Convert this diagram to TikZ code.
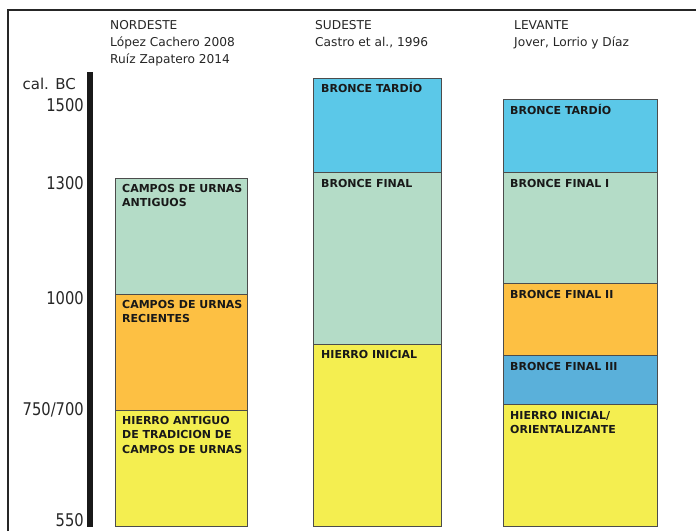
\documentclass[tikz,border=0pt]{standalone}
\usepackage{fontspec}
\setmainfont{DejaVu Sans}
\newfontfamily\digitfont[FakeStretch=0.84]{DejaVu Sans}
\begin{document}
\begin{tikzpicture}[x=1pt,y=-1pt,
  frame/.style={draw=black!85, line width=1.5pt},
  period/.style={draw=black!70, line width=0.9pt},
  lbl/.style={anchor=base west, inner sep=0pt, align=left, font=\fontsize{11}{14.3}\selectfont\bfseries, text=black!90},
  head/.style={anchor=base west, inner sep=0pt, align=left, font=\fontsize{12.2}{16.6}\selectfont, text=black!85},
  axlbl/.style={anchor=base east, inner sep=0pt, font=\fontsize{17.5}{19}\digitfont, text=black!85}]
\definecolor{cgreen}{HTML}{B4DCC7}
\definecolor{corange}{HTML}{FDC043}
\definecolor{cyellow}{HTML}{F4EE50}
\definecolor{cblue}{HTML}{5BC8E8}
\definecolor{cmblue}{HTML}{5AB0DA}
\useasboundingbox (0,0) rectangle (696,531);
% frame
\draw[frame] (8,531) -- (8,10) -- (696,10);
% axis
\fill[black!90] (87,72) rectangle (93,527);
\node[anchor=base east, inner sep=0pt, font=\fontsize{15}{17}\selectfont, text=black!85] (ax0) at (76,89.3) {cal. BC};
\node[axlbl] (ax1) at (84,111.7) {1500};
\node[axlbl] (ax2) at (84,189) {1300};
\node[axlbl] (ax3) at (84,304.3) {1000};
\node[axlbl] (ax4) at (84,415.7) {750/700};
\node[axlbl] (ax5) at (84,526) {550};
% headers
\node[head] (h1) at (110,63) {NORDESTE\\López Cachero 2008\\Ruíz Zapatero 2014};
\node[head] (h2) at (315,46.5) {SUDESTE\\Castro et al., 1996};
\node[head] (h3) at (514,46.5) {LEVANTE\\Jover, Lorrio y Díaz};
% column 1
\draw[period, fill=cgreen] (115,178) rectangle (247,294);
\draw[period, fill=corange] (115,294) rectangle (247,410.5);
\draw[period, fill=cyellow] (115,410.5) rectangle (247,526);
\node[lbl] (a1) at (122,206.3) {CAMPOS DE URNAS\\ANTIGUOS};
\node[lbl] (a2) at (122,322.3) {CAMPOS DE URNAS\\RECIENTES};
\node[lbl] (a3) at (122,453.1) {HIERRO ANTIGUO\\DE TRADICION DE\\CAMPOS DE URNAS};
% column 2
\draw[period, fill=cblue] (313,78) rectangle (441.5,172);
\draw[period, fill=cgreen] (313,172) rectangle (441.5,344);
\draw[period, fill=cyellow] (313,344) rectangle (441.5,526);
\node[lbl] (b1) at (321,92.5) {BRONCE TARDÍO};
\node[lbl] (b2) at (321,187) {BRONCE FINAL};
\node[lbl] (b3) at (321,358.5) {HIERRO INICIAL};
% column 3
\draw[period, fill=cblue] (503,99.5) rectangle (657.5,172);
\draw[period, fill=cgreen] (503,172) rectangle (657.5,283);
\draw[period, fill=corange] (503,283) rectangle (657.5,355);
\draw[period, fill=cmblue] (503,355) rectangle (657.5,404);
\draw[period, fill=cyellow] (503,404) rectangle (657.5,526);
\node[lbl] (c1) at (510,114.5) {BRONCE TARDÍO};
\node[lbl] (c2) at (510,187) {BRONCE FINAL I};
\node[lbl] (c3) at (510,298) {BRONCE FINAL II};
\node[lbl] (c4) at (510,370) {BRONCE FINAL III};
\node[lbl] (c5) at (510,433.3) {HIERRO INICIAL/\\ORIENTALIZANTE};
\end{tikzpicture}
\end{document}
